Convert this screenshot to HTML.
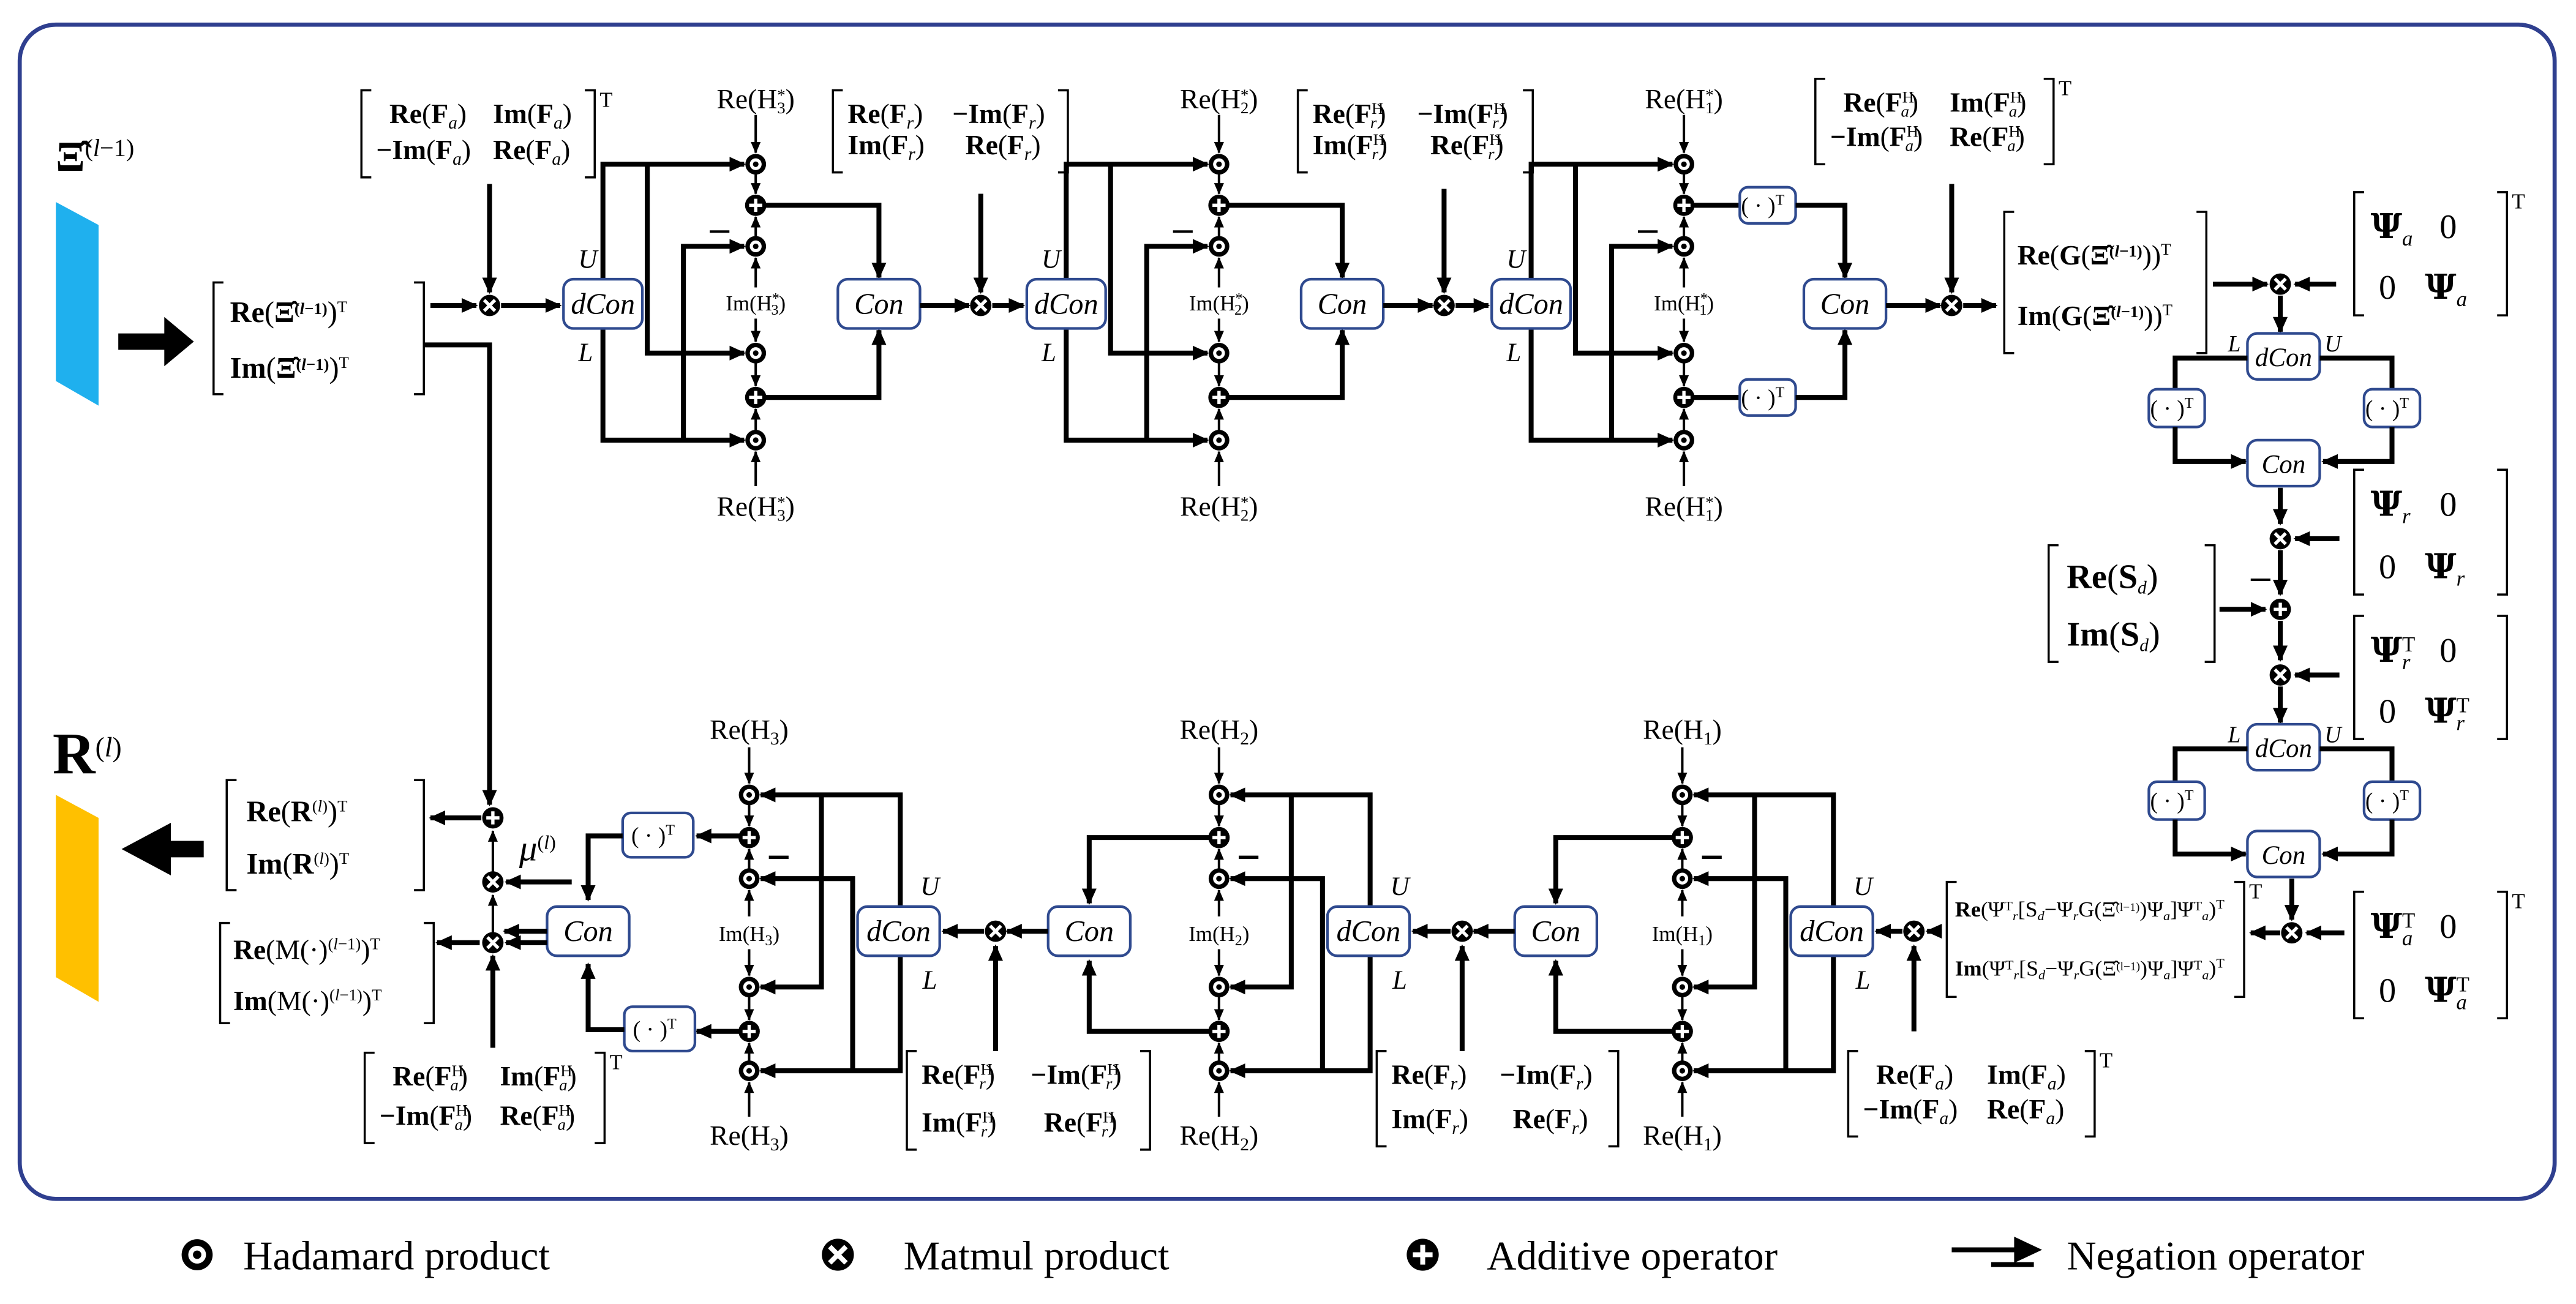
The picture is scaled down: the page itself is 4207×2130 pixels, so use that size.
<!DOCTYPE html>
<html><head><meta charset="utf-8">
<style>
html,body{margin:0;padding:0;background:#fff;}
svg{display:block;}
text{font-family:"Liberation Serif",serif;fill:#000;}
</style></head>
<body>
<svg id="s" width="4207" height="2130" viewBox="0 0 1568 794" preserveAspectRatio="none" xmlns="http://www.w3.org/2000/svg">
<defs>
<marker id="a" markerUnits="userSpaceOnUse" markerWidth="10" markerHeight="10" refX="9" refY="5" orient="auto"><path d="M0,0.5 L10,5 L0,9.5 z" fill="#000"/></marker>
<marker id="b" markerUnits="userSpaceOnUse" markerWidth="7" markerHeight="7" refX="6.5" refY="3.5" orient="auto"><path d="M0,0.5 L7,3.5 L0,6.5 z" fill="#000"/></marker>
<g id="had"><circle r="6.3" fill="#000"/><circle r="3.6" fill="#fff"/><circle r="1.7" fill="#000"/></g>
<g id="mat"><circle r="6.5" fill="#000"/><path d="M-3.3,-3.3 L3.3,3.3 M3.3,-3.3 L-3.3,3.3" stroke="#fff" stroke-width="2"/></g>
<g id="add"><circle r="6.5" fill="#000"/><path d="M-4,0 H4 M0,-4 V4" stroke="#fff" stroke-width="2"/></g>
</defs>
<rect x="12" y="15" width="1543" height="715" rx="22" fill="none" stroke="#2f3f8f" stroke-width="2.5"/>
</svg>
<script>
const svg=document.getElementById('s');
let out='';
function A(s){out+=s;}
function L(d,w,m){w=w||3;m=(m===undefined)?'a':m;A(`<path d="${d}" stroke="#000" stroke-width="${w}" fill="none"${m?` marker-end="url(#${m})"`:''}/>`);}
function S(d,m){L(d,1.5,m===undefined?'b':m);}
function op(id,x,y){A(`<use href="#${id}" x="${x}" y="${y}"/>`);}
function T(x,y,s,size,anchor,extra){A(`<text x="${x}" y="${y}" font-size="${size||16}" text-anchor="${anchor||'start'}" ${extra||''}>${s}</text>`);}
function box(x,y,w,h,label,size){A(`<rect x="${x}" y="${y}" width="${w}" height="${h}" rx="6" fill="#fff" stroke="#2f4a8f" stroke-width="1.6"/>`);
 T(x+w/2,y+h/2+6,label,size||18,'middle','font-style="italic"');}
function tbox(x,y,w,h){A(`<rect x="${x}" y="${y}" width="${w}" height="${h}" rx="5" fill="#fff" stroke="#2f4a8f" stroke-width="1.6"/>`);
 T(x+w/2-3,y+h/2+5,'(&#160;·&#160;)<tspan font-size="9" baseline-shift="60%">T</tspan>',14,'middle');}
function br(x1,y1,x2,y2,t){A(`<path d="M${x1+6},${y1} H${x1} V${y2} H${x1+6} M${x2-6},${y1} H${x2} V${y2} H${x2-6}" stroke="#000" stroke-width="1.3" fill="none"/>`);
 if(t)T(x2+3,y1+10,'T',13);}
const sub=(s)=>`<tspan font-size="11" font-style="italic" baseline-shift="-30%">${s}</tspan>`;
const subn=(s)=>`<tspan font-size="11" baseline-shift="-30%">${s}</tspan>`;
const Fx=(a,H)=>H?`<tspan font-weight="bold">F</tspan><tspan font-size="10" baseline-shift="55%">H</tspan><tspan font-size="10" font-style="italic" dx="-8" baseline-shift="-30%">${a}</tspan>`:`<tspan font-weight="bold">F</tspan>${sub(a)}`;
const B=(s)=>`<tspan font-weight="bold">${s}</tspan>`;
function fmat(x1,y1,x2,y2,a,H,type,t){
 br(x1,y1,x2,y2,t);
 const F=Fx(a,H);
 const r1=y1+20,r2=y2-11,cx=x1+9,cx2=x1+(x2-x1)*0.55;
 if(type==='a'){T(cx+8,r1,`${B('Re')}(${F})`,17);T(cx2+2,r1,`${B('Im')}(${F})`,17);
   T(cx,r2,`${B('−Im')}(${F})`,17);T(cx2+2,r2,`${B('Re')}(${F})`,17);}
 else{T(cx,r1,`${B('Re')}(${F})`,17);T(cx2-6,r1,`${B('−Im')}(${F})`,17);
   T(cx,r2,`${B('Im')}(${F})`,17);T(cx2+2,r2,`${B('Re')}(${F})`,17);}
}
// ---------- top blocks ----------
function topBlock(dL,conL,hasT,k,ox){
 const U=dL+24,b1=dL+51,b2=dL+73,c=dL+117,cx=conL+25;
 L(`M${U} 170 V100 H${c-7}`);L(`M${b1} 100 V215 H${c-7}`);
 L(`M${U} 200 V268 H${c-7}`);L(`M${b2} 268 V150 H${c-7}`);
 S(`M${c-28} 141 H${c-16}`,'');
 op('had',c,100);op('add',c,125);op('had',c,150);op('had',c,215);op('add',c,242);op('had',c,268);
 S(`M${c} 70 V93`);S(`M${c} 106 V118`);S(`M${c} 144 V132`);S(`M${c} 175 V157`);S(`M${c} 194 V208`);S(`M${c} 221 V235`);S(`M${c} 262 V249`);S(`M${c} 296 V275`);
 const Hk=`H<tspan font-size="10" baseline-shift="50%">*</tspan><tspan font-size="10" dx="-5" baseline-shift="-30%">${k}</tspan>`;
 T(c,66,`Re(${Hk})`,17,'middle');T(c,314,`Re(${Hk})`,17,'middle');
 T(c,189,`Im(${Hk.replace(/10/g,'9')})`,13,'middle');
 if(hasT){L(`M${c+6} 125 H${c+34}`,3,'');tbox(c+34,114,34,22);L(`M${c+68} 125 H${cx} V169`);
   L(`M${c+6} 242 H${c+34}`,3,'');tbox(c+34,231,34,22);L(`M${c+68} 242 H${cx} V201`);}
 else{L(`M${c+6} 125 H${cx} V169`);L(`M${c+6} 242 H${cx} V201`);}
 box(dL,170,48,30,'dCon');box(conL,170,50,30,'Con');
 T(dL+9,163,'U',16,'start','font-style="italic"');T(dL+9,220,'L',16,'start','font-style="italic"');
 L(`M${conL+50} 186 H${ox-7}`);
}
topBlock(343,510,false,3,597);
topBlock(625,792,false,2,879);
topBlock(908,1098,true,1,1188);
op('mat',298,186);op('mat',597,186);op('mat',879,186);op('mat',1188,186);
L('M262 186 H290');L('M305 186 H341');L('M604 186 H623');L('M886 186 H906');L('M1195 186 H1215');
L('M298 112 V178');L('M597 118 V178');L('M879 115 V178');L('M1188 112 V178');
fmat(220,55,362,108,'a',false,'a',true);
fmat(507,55,650,105,'r',false,'b',false);
fmat(790,55,933,105,'r',true,'b',false);
fmat(1105,48,1250,100,'a',true,'a',true);
// ---------- bottom blocks ----------
function botBlock(dL,conL,hasT,k,ox){
 const U=dL+26,b1=dL-22,b2=dL-3,c=dL-66,cx=conL+25;
 L(`M${U} 552 V484 H${c+7}`);L(`M${b1} 484 V601 H${c+7}`);
 L(`M${U} 582 V652 H${c+7}`);L(`M${b2} 652 V535 H${c+7}`);
 L(`M${c+12} 522 H${c+24}`,2,'');
 op('had',c,484);op('add',c,510);op('had',c,535);op('had',c,601);op('add',c,628);op('had',c,652);
 S(`M${c} 455 V477`);S(`M${c} 490 V503`);S(`M${c} 529 V517`);S(`M${c} 558 V542`);S(`M${c} 578 V594`);S(`M${c} 607 V621`);S(`M${c} 646 V635`);S(`M${c} 680 V659`);
 T(c,450,`Re(H${subn(k)})`,17,'middle');T(c,697,`Re(H${subn(k)})`,17,'middle');
 T(c,573,`Im(H<tspan font-size="9" baseline-shift="-30%">${k}</tspan>)`,13,'middle');
 if(hasT){L(`M${c-6} 509 H${c-32}`);tbox(379,495,43,27);L(`M379 509 H358 V548`);
   L(`M${c-6} 628 H${c-32}`);tbox(380,613,43,27);L(`M380 627 H358 V587`);}
 else{L(`M${c-6} 510 H${cx} V550`);L(`M${c-6} 628 H${cx} V585`);}
 box(dL,552,50,30,'dCon');box(conL,552,50,30,'Con');
 T(dL+44,545,'U',16,'middle','font-style="italic"');T(dL+44,602,'L',16,'middle','font-style="italic"');
 L(`M${conL} 567 H${ox+7}`);
}
botBlock(1090,922,false,1,890);
botBlock(808,638,false,2,606);
botBlock(522,333,true,3,300);
op('mat',1165,567);op('mat',890,567);op('mat',606,567);
L('M1182 567 H1173');L('M1158 567 H1142');L('M883 567 H860');L('M599 567 H574');
L('M1165 628 V576');L('M890 640 V576');L('M606 640 V576');
fmat(222,641,368,696,'a',true,'a',true);
fmat(552,640,700,700,'r',true,'b',false);
fmat(838,640,985,698,'r',false,'b',false);
fmat(1125,640,1275,692,'a',false,'a',true);
// ---------- left side ----------
A('<polygon points="34,123 60,137 60,247 34,232" fill="#1fb0ee"/>');
A('<polygon points="34,484 60,498 60,610 34,595" fill="#ffc000"/>');
A('<path d="M124 512 H104 V501 L74 517 L104 533 V522 H124 Z" fill="#000"/>');
A('<path d="M72 203 H100 V193 L118 208 L100 223 V213 H72 Z" fill="#000"/>');
T(34,104,`${B('Ξ̂')}<tspan font-size="15" baseline-shift="60%">(<tspan font-style="italic">l</tspan>−1)</tspan>`,26);
T(32,471,`${B('R')}<tspan font-size="17" baseline-shift="60%">(<tspan font-style="italic">l</tspan>)</tspan>`,36);
const Xi=`Ξ̂<tspan font-size="10" baseline-shift="50%">(<tspan font-style="italic">l</tspan>−1)</tspan>`;
br(130,172,258,240,false);
T(140,196,`${B('Re')}(${B(Xi)})<tspan font-size="10" baseline-shift="60%">T</tspan>`,18);
T(140,230,`${B('Im')}(${B(Xi)})<tspan font-size="10" baseline-shift="60%">T</tspan>`,18);
L('M258 210 H298 V490');
op('add',300,498);op('mat',300,537);op('mat',300,574);
L('M293 498 H262');L('M292 574 H266');S('M300 568 V545');S('M300 531 V506');L('M300 638 V582');
L('M348 537 H308');L('M333 574 H308',3);
T(316,524,`<tspan font-style="italic">μ</tspan><tspan font-size="12" baseline-shift="60%">(<tspan font-style="italic">l</tspan>)</tspan>`,22);
br(138,475,258,542,false);
T(150,500,`${B('Re')}(${B('R')}<tspan font-size="10" baseline-shift="60%">(<tspan font-style="italic">l</tspan>)</tspan>)<tspan font-size="10" baseline-shift="60%">T</tspan>`,18);
T(150,532,`${B('Im')}(${B('R')}<tspan font-size="10" baseline-shift="60%">(<tspan font-style="italic">l</tspan>)</tspan>)<tspan font-size="10" baseline-shift="60%">T</tspan>`,18);
br(134,562,264,623,false);
T(142,584,`${B('Re')}(M(·)<tspan font-size="10" baseline-shift="60%">(<tspan font-style="italic">l</tspan>−1)</tspan>)<tspan font-size="10" baseline-shift="60%">T</tspan>`,17);
T(142,615,`${B('Im')}(M(·)<tspan font-size="10" baseline-shift="60%">(<tspan font-style="italic">l</tspan>−1)</tspan>)<tspan font-size="10" baseline-shift="60%">T</tspan>`,17);
// ---------- right column ----------
const sup=(s)=>`<tspan font-size="10" baseline-shift="60%">${s}</tspan>`;
br(1220,129,1343,215,false);
T(1228,161,`${B('Re')}(${B('G')}(${B(Xi)}))${sup('T')}`,17);
T(1228,198,`${B('Im')}(${B('G')}(${B(Xi)}))${sup('T')}`,17);
L('M1347 173 H1380');op('mat',1388,173);L('M1422 173 H1397');
L('M1388 180 V202');
box(1368,203,44,28,'dCon',16);
T(1360,214,'L',14,'middle','font-style="italic"');T(1420,214,'U',14,'middle','font-style="italic"');
L('M1368 218 H1324 V237',3,'');L('M1412 218 H1456 V237',3,'');
tbox(1308,237,34,23);tbox(1439,237,34,23);
L('M1324 260 V281 H1367');L('M1456 260 V281 H1414');
box(1368,268,44,28,'Con',16);
L('M1388 297 V319');op('mat',1388,328);L('M1424 328 H1397');
S('M1370 353 H1382','');
L('M1388 335 V362');op('add',1388,371);L('M1351 371 H1379');
L('M1388 378 V402');op('mat',1388,411);L('M1424 411 H1397');
L('M1388 418 V440');
box(1368,441,44,28,'dCon',16);
T(1360,452,'L',14,'middle','font-style="italic"');T(1420,452,'U',14,'middle','font-style="italic"');
L('M1368 456 H1324 V476',3,'');L('M1412 456 H1456 V476',3,'');
tbox(1308,476,34,23);tbox(1439,476,34,23);
L('M1324 499 V520 H1367');L('M1456 499 V520 H1414');
box(1368,506,44,28,'Con',16);
L('M1395 535 V560');op('mat',1395,568);L('M1388 568 H1370');L('M1427 568 H1404');
const Ps=(s,t)=>`<tspan font-weight="bold" font-family="DejaVu Serif">Ψ</tspan>${t?`<tspan font-size="13" baseline-shift="50%">T</tspan><tspan font-size="13" font-style="italic" dx="-8" baseline-shift="-35%">${s}</tspan>`:`<tspan font-size="13" font-style="italic" baseline-shift="-35%">${s}</tspan>`}`;
function pmat(y1,y2,s,t,TT){br(1433,y1,1526,y2,TT);
 T(1443,y1+28,Ps(s,t),21);T(1485,y1+28,'0',21);
 T(1448,y2-10,'0',21);T(1476,y2-10,Ps(s,t),21);}
pmat(117,192,'a',false,true);
pmat(286,362,'r',false,false);
pmat(375,450,'r',true,false);
pmat(543,620,'a',true,true);
br(1247,332,1348,403,false);
T(1258,358,`${B('Re')}(${B('S')}${sub('d')})`,21);
T(1258,393,`${B('Im')}(${B('S')}${sub('d')})`,21);
br(1185,537,1366,607,true);
const inner=`(Ψ<tspan font-size="8" baseline-shift="50%">T</tspan><tspan font-size="8" font-style="italic" baseline-shift="-30%">r</tspan>[S<tspan font-size="8" font-style="italic" baseline-shift="-30%">d</tspan>−Ψ<tspan font-size="8" font-style="italic" baseline-shift="-30%">r</tspan>G(Ξ̂<tspan font-size="7" baseline-shift="50%">(l−1)</tspan>)Ψ<tspan font-size="8" font-style="italic" baseline-shift="-30%">a</tspan>]Ψ<tspan font-size="8" baseline-shift="50%">T</tspan><tspan font-size="8" font-style="italic" baseline-shift="-30%">a</tspan>)<tspan font-size="8" baseline-shift="60%">T</tspan>`;
T(1190,558,`${B('Re')}${inner}`,13,'start','textLength="164" lengthAdjust="spacingAndGlyphs"');
T(1190,594,`${B('Im')}${inner}`,13,'start','textLength="164" lengthAdjust="spacingAndGlyphs"');
// ---------- legend ----------
A('<g transform="translate(120,764) scale(1.5)"><use href="#had"/></g>');
T(148,773,'Hadamard product',25);
A('<g transform="translate(510,764) scale(1.5)"><use href="#mat"/></g>');
T(550,773,'Matmul product',25);
A('<g transform="translate(866,764) scale(1.5)"><use href="#add"/></g>');
T(905,773,'Additive operator',25);
A('<path d="M1188 761 H1228 M1212 770 H1238" stroke="#000" stroke-width="3" fill="none"/><path d="M1226 753 L1243 761 L1226 769 Z" fill="#000"/>');
T(1258,773,'Negation operator',25);
svg.insertAdjacentHTML('beforeend',out);
</script>
</body></html>
